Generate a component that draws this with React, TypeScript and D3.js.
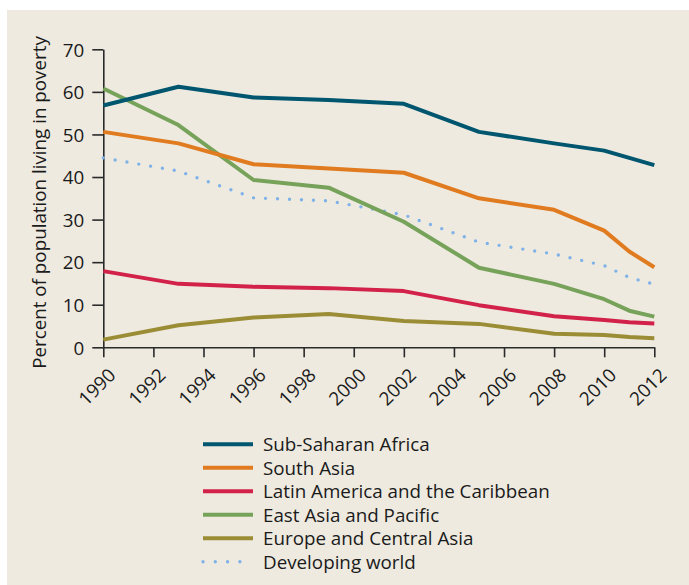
import React, { useEffect, useRef } from "react";
import * as d3 from "d3";

const years = [1990, 1993, 1996, 1999, 2002, 2005, 2008, 2010, 2011, 2012];
const seriesNames = [
  "Sub-Saharan Africa",
  "South Asia",
  "Latin America and the Caribbean",
  "East Asia and Pacific",
  "Europe and Central Asia",
  "Developing world",
];
const subSaharan = [56.8, 61.2, 58.7, 58.1, 57.2, 50.6, 47.9, 46.2, 44.5, 42.8];
const southAsia = [50.6, 47.9, 43.0, 42.0, 41.0, 35.0, 32.3, 27.4, 22.5, 18.8];
const latinAmerica = [17.9, 14.9, 14.2, 13.9, 13.2, 9.9, 7.3, 6.4, 5.9, 5.6];
const eastAsia = [60.8, 52.2, 39.3, 37.5, 29.5, 18.7, 14.9, 11.3, 8.6, 7.2];
const europe = [1.8, 5.2, 7.0, 7.8, 6.2, 5.5, 3.2, 2.9, 2.4, 2.1];
const developing = [44.5, 41.4, 35.1, 34.4, 31.1, 24.7, 21.9, 19.2, 16.4, 14.8];
const colors = ["#00566e", "#e07b1f", "#d3224a", "#76a25a", "#9b8d35", "#7fb2e8"];
const yTicks = [0, 10, 20, 30, 40, 50, 60, 70];
const xTicks = [1990, 1992, 1994, 1996, 1998, 2000, 2002, 2004, 2006, 2008, 2010, 2012];

const W = 689;
const H = 585;
const FONT = "'Open Sans', sans-serif";
const FS = 18.8;

export default function App() {
  const ref = useRef<SVGSVGElement>(null);
  useEffect(() => {
    const svg = d3.select(ref.current);
    svg.selectAll("*").remove();
    svg.append("rect").attr("x", 0).attr("y", 0).attr("width", W).attr("height", H).attr("fill", "#ffffff");
    svg.append("rect").attr("x", 7).attr("y", 10).attr("width", W - 7).attr("height", H - 10).attr("fill", "#eeeae0");

    const x = d3.scaleLinear().domain([1990, 2012]).range([103.3, 654.3]);
    const y = d3.scaleLinear().domain([0, 70]).range([347.3, 49.3]);

    const data = [subSaharan, southAsia, latinAmerica, eastAsia, europe, developing];

    const yAxis = svg.append("g").attr("transform", `translate(${x(1990)},0)`)
      .call(d3.axisLeft(y).tickValues(yTicks).tickSize(11).tickSizeOuter(0).tickPadding(8));
    const xAxis = svg.append("g").attr("transform", `translate(0,${y(0)})`)
      .call(d3.axisBottom(x).tickValues(xTicks).tickFormat(d3.format("d")).tickSize(10).tickSizeOuter(0));
    [yAxis, xAxis].forEach((g) => {
      g.selectAll("path,line").attr("stroke", "#2a2a2a").attr("stroke-width", 1.6);
      g.selectAll("text").attr("fill", "#1a1a1a").attr("font-family", FONT).attr("font-size", FS);
    });
    yAxis.selectAll("text").attr("dy", "0.36em");
    xAxis.selectAll("text")
      .attr("text-anchor", "end")
      .attr("dy", null)
      .attr("y", 0)
      .attr("transform", "translate(13,29) rotate(-45)");

    svg.append("text")
      .attr("transform", `translate(46,${(32 + 373) / 2}) rotate(-90)`)
      .attr("text-anchor", "middle")
      .attr("font-family", FONT)
      .attr("font-size", FS)
      .attr("fill", "#1a1a1a")
      .text("Percent of population living in poverty");

    const line = d3.line<number>().x((_, i) => x(years[i])).y((d) => y(d));
    const order = [4, 2, 5, 3, 1, 0];
    order.forEach((k) => {
      const p = svg.append("path")
        .attr("d", line(data[k]))
        .attr("fill", "none")
        .attr("stroke", colors[k])
        .attr("stroke-width", 4)
        .attr("stroke-linejoin", "round");
      if (k === 5) {
        p.attr("stroke-width", 3.4).attr("stroke-linecap", "round").attr("stroke-dasharray", "0 12");
      }
    });

    const lg = svg.append("g");
    seriesNames.forEach((name, i) => {
      const ly = 444.3 + i * 23.5;
      const l = lg.append("line")
        .attr("x1", 203).attr("x2", 253).attr("y1", ly).attr("y2", ly)
        .attr("stroke", colors[i]).attr("stroke-width", 4);
      if (i === 5) {
        l.attr("x2", 242).attr("stroke-width", 3.4).attr("stroke-linecap", "round").attr("stroke-dasharray", "0 12.3");
      }
      lg.append("text")
        .attr("x", 263)
        .attr("y", ly)
        .attr("dy", "0.36em")
        .attr("font-family", FONT)
        .attr("font-size", FS)
        .attr("fill", "#1a1a1a")
        .text(name);
    });
  }, []);
  return (
    <svg
      ref={ref}
      width={W}
      height={H}
      style={{ position: "absolute", left: 0, top: 0, display: "block" }}
    />
  );
}
